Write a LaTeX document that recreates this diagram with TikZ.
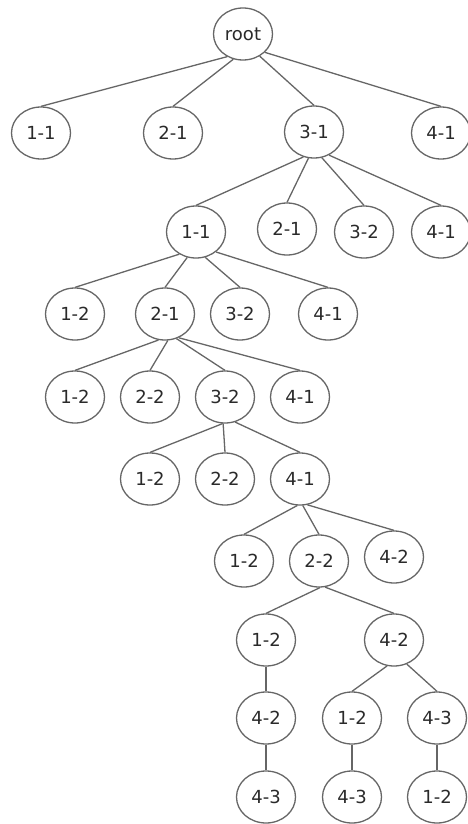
\documentclass[tikz,border=0pt]{standalone}
\usepackage{fontspec}
\setmainfont{DejaVu Sans}
\usetikzlibrary{shapes.geometric}
\definecolor{linec}{HTML}{666666}
\definecolor{textc}{HTML}{2A2A2A}
\begin{document}
\begin{tikzpicture}[x=1pt,y=-1pt,
  tn/.style={ellipse,draw=linec,line width=1.3pt,minimum width=59pt,minimum height=52pt,inner sep=0pt,
    text=textc,font=\fontsize{18}{21}\selectfont},
  ed/.style={draw=linec,line width=1.3pt}]
\useasboundingbox (0,0) rectangle (468,824);
% row 0
\node[tn] (r) at (243,34) {root};
% row 1
\node[tn] (a1) at (41,133) {1-1};
\node[tn] (a2) at (173,133) {2-1};
\node[tn] (a3) at (314,132) {3-1};
\node[tn] (a4) at (441,133) {4-1};
% row 2
\node[tn] (b1) at (196,232) {1-1};
\node[tn] (b2) at (287,229) {2-1};
\node[tn] (b3) at (364,232) {3-2};
\node[tn] (b4) at (441,232) {4-1};
% row 3
\node[tn] (c1) at (75,314) {1-2};
\node[tn] (c2) at (165,314) {2-1};
\node[tn] (c3) at (240,314) {3-2};
\node[tn] (c4) at (328,314) {4-1};
% row 4
\node[tn] (d1) at (75,397) {1-2};
\node[tn] (d2) at (150,397) {2-2};
\node[tn] (d3) at (225,397) {3-2};
\node[tn] (d4) at (300,397) {4-1};
% row 5
\node[tn] (e1) at (150,479) {1-2};
\node[tn] (e2) at (225,479) {2-2};
\node[tn] (e3) at (300,479) {4-1};
% row 6
\node[tn] (f1) at (244,561) {1-2};
\node[tn] (f2) at (319,561) {2-2};
\node[tn] (f3) at (394,557) {4-2};
% row 7
\node[tn] (g1) at (266,640) {1-2};
\node[tn] (g2) at (394,640) {4-2};
% row 8
\node[tn] (h1) at (266,718) {4-2};
\node[tn] (h2) at (352,718) {1-2};
\node[tn] (h3) at (437,718) {4-3};
% row 9
\node[tn] (i1) at (266,797) {4-3};
\node[tn] (i2) at (352,797) {4-3};
\node[tn] (i3) at (437,797) {1-2};
% edges
\draw[ed] (r.-125) -- (a1.north);
\draw[ed] (r.-111) -- (a2.north);
\draw[ed] (r.-53) -- (a3.north);
\draw[ed] (r.-40) -- (a4.north);
\draw[ed] (a3.-113) -- (b1.north);
\draw[ed] (a3.-102) -- (b2.north);
\draw[ed] (a3.-73) -- (b3.north);
\draw[ed] (a3.-57) -- (b4.north);
\draw[ed] (b1.-127) -- (c1.north);
\draw[ed] (b1.-109) -- (c2.north);
\draw[ed] (b1.-70) -- (c3.north);
\draw[ed] (b1.-45) -- (c4.north);
\draw[ed] (c2.-104) -- (d1.north);
\draw[ed] (c2.-84) -- (d2.north);
\draw[ed] (c2.-65) -- (d3.north);
\draw[ed] (c2.-60) -- (d4.north);
\draw[ed] (d3.-95) -- (e1.north);
\draw[ed] (d3.-94) -- (e2.north);
\draw[ed] (d3.-68) -- (e3.north);
\draw[ed] (e3.-96) -- (f1.north);
\draw[ed] (e3.-84) -- (f2.north);
\draw[ed] (e3.-74) -- (f3.north);
\draw[ed] (f2.-88) -- (g1.north);
\draw[ed] (f2.-77) -- (g2.north);
\draw[ed] (g1.south) -- (h1.north);
\draw[ed] (g2.-105) -- (h2.north);
\draw[ed] (g2.-62) -- (h3.north);
\draw[ed] (h1.south) -- (i1.north);
\draw[ed] (h2.south) -- (i2.north);
\draw[ed] (h3.south) -- (i3.north);
\end{tikzpicture}
\end{document}
